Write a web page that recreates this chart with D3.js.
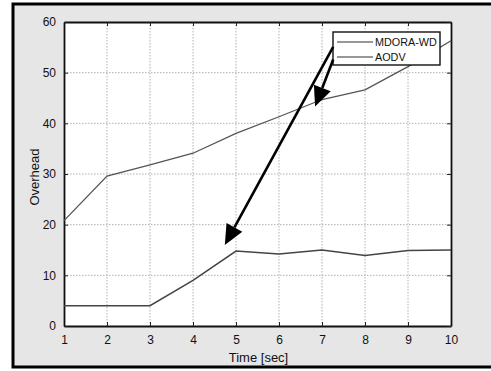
<!DOCTYPE html>
<html><head><meta charset="utf-8">
<script src="https://cdn.jsdelivr.net/npm/d3@7"></script>
<style>body{margin:0;background:#fff}svg{display:block}text{font-family:"Liberation Sans",Arial,sans-serif}</style>
</head><body>
<svg id="c" width="491" height="371"></svg>
<script>
const times = [1,2,3,4,5,6,7,8,9,10];
const mdoraWD = [4,4,4,9,14.8,14.2,15,13.9,14.9,15];
const aodv = [20.8,29.6,31.8,34.1,38,41.3,44.7,46.6,51.2,56.3];
const xTicks = [1,2,3,4,5,6,7,8,9,10];
const yTicks = [0,10,20,30,40,50,60];
const seriesNames = ["MDORA-WD","AODV"];
// annotation arrows in data coordinates: [fromX, fromY, toX, toY]
const arrows = [[7.26,55.1,4.74,16.0],[7.26,52.6,6.84,43.3]];

const svg = d3.select("#c");
const m = {l:64, t:22, r:451, b:326};
const x = d3.scaleLinear().domain([1,10]).range([m.l,m.r]);
const y = d3.scaleLinear().domain([0,60]).range([m.b,m.t]);

// background and outer frame
svg.append("rect").attr("x",0).attr("y",0).attr("width",491).attr("height",371).attr("fill","#fff");
svg.append("rect").attr("x",13).attr("y",4).attr("width",490).attr("height",363).attr("fill","#e6e6e6").attr("stroke","#000").attr("stroke-width",3);
svg.append("rect").attr("x",m.l).attr("y",m.t).attr("width",m.r-m.l).attr("height",m.b-m.t).attr("fill","#fff");

// grid
const g = svg.append("g");
g.selectAll(".gx").data(xTicks.slice(1,-1)).enter().append("line")
 .attr("x1",d=>x(d)).attr("x2",d=>x(d)).attr("y1",m.t).attr("y2",m.b)
 .attr("stroke","#b0b0b0").attr("stroke-width",1).attr("stroke-dasharray","1.5,1.5");
g.selectAll(".gy").data(yTicks.slice(1,-1)).enter().append("line")
 .attr("y1",d=>y(d)).attr("y2",d=>y(d)).attr("x1",m.l).attr("x2",m.r)
 .attr("stroke","#b0b0b0").attr("stroke-width",1).attr("stroke-dasharray","1.5,1.5");

// axes
const xa = svg.append("g").attr("transform",`translate(0,${m.b})`)
 .call(d3.axisBottom(x).tickValues(xTicks).tickFormat(d3.format("d")).tickSizeInner(-4).tickSizeOuter(0).tickPadding(9));
const xt = svg.append("g").attr("transform",`translate(0,${m.t})`)
 .call(d3.axisTop(x).tickValues(xTicks).tickFormat("").tickSizeInner(-4).tickSizeOuter(0));
const ya = svg.append("g").attr("transform",`translate(${m.l},0)`)
 .call(d3.axisLeft(y).tickValues(yTicks).tickFormat(d3.format("d")).tickSizeInner(-4).tickSizeOuter(0).tickPadding(8));
const yr = svg.append("g").attr("transform",`translate(${m.r},0)`)
 .call(d3.axisRight(y).tickValues(yTicks).tickFormat("").tickSizeInner(-4).tickSizeOuter(0));
[xa,xt,ya,yr].forEach(a=>{a.selectAll("path").attr("stroke","#111").attr("stroke-width",1.8);a.selectAll("line").attr("stroke","#222");a.selectAll("text").attr("font-size",12).attr("fill","#111");});

// lines
const line = d3.line().x((d,i)=>x(times[i])).y(d=>y(d));
svg.append("path").datum(aodv).attr("d",line).attr("fill","none").attr("stroke","#555").attr("stroke-width",1.3);
svg.append("path").datum(mdoraWD).attr("d",line).attr("fill","none").attr("stroke","#444").attr("stroke-width",1.5);

// labels
svg.append("text").attr("x",(m.l+m.r)/2+1).attr("y",362).attr("text-anchor","middle").attr("font-size",13).attr("fill","#111").text("Time [sec]");
svg.append("text").attr("transform",`translate(39,${(m.t+m.b)/2+3}) rotate(-90)`).attr("text-anchor","middle").attr("font-size",13).attr("fill","#111").text("Overhead");

// legend
const lg = svg.append("g");
lg.append("rect").attr("x",333).attr("y",32).attr("width",107).attr("height",33).attr("fill","#fff").attr("stroke","#111").attr("stroke-width",1.4);
seriesNames.forEach((s,i)=>{
  const yy = 42 + i*15;
  lg.append("line").attr("x1",337).attr("x2",373).attr("y1",yy).attr("y2",yy).attr("stroke","#333").attr("stroke-width",1.2);
  lg.append("text").attr("x",375).attr("y",yy+4).attr("font-size",10.8).attr("fill","#111").text(s);
});

// arrows
arrows.forEach(a=>{
  const x0=x(a[0]),y0=y(a[1]),x1=x(a[2]),y1=y(a[3]);
  const ang=Math.atan2(y1-y0,x1-x0), L=20, W=9;
  const bx=x1-L*Math.cos(ang), by=y1-L*Math.sin(ang);
  svg.append("line").attr("x1",x0).attr("y1",y0).attr("x2",bx).attr("y2",by).attr("stroke","#000").attr("stroke-width",2.6);
  const p=[[x1,y1],[bx+W*Math.sin(ang),by-W*Math.cos(ang)],[bx-W*Math.sin(ang),by+W*Math.cos(ang)]];
  svg.append("path").attr("d","M"+p.map(q=>q.join(",")).join("L")+"Z").attr("fill","#000");
});
</script>
</body></html>
